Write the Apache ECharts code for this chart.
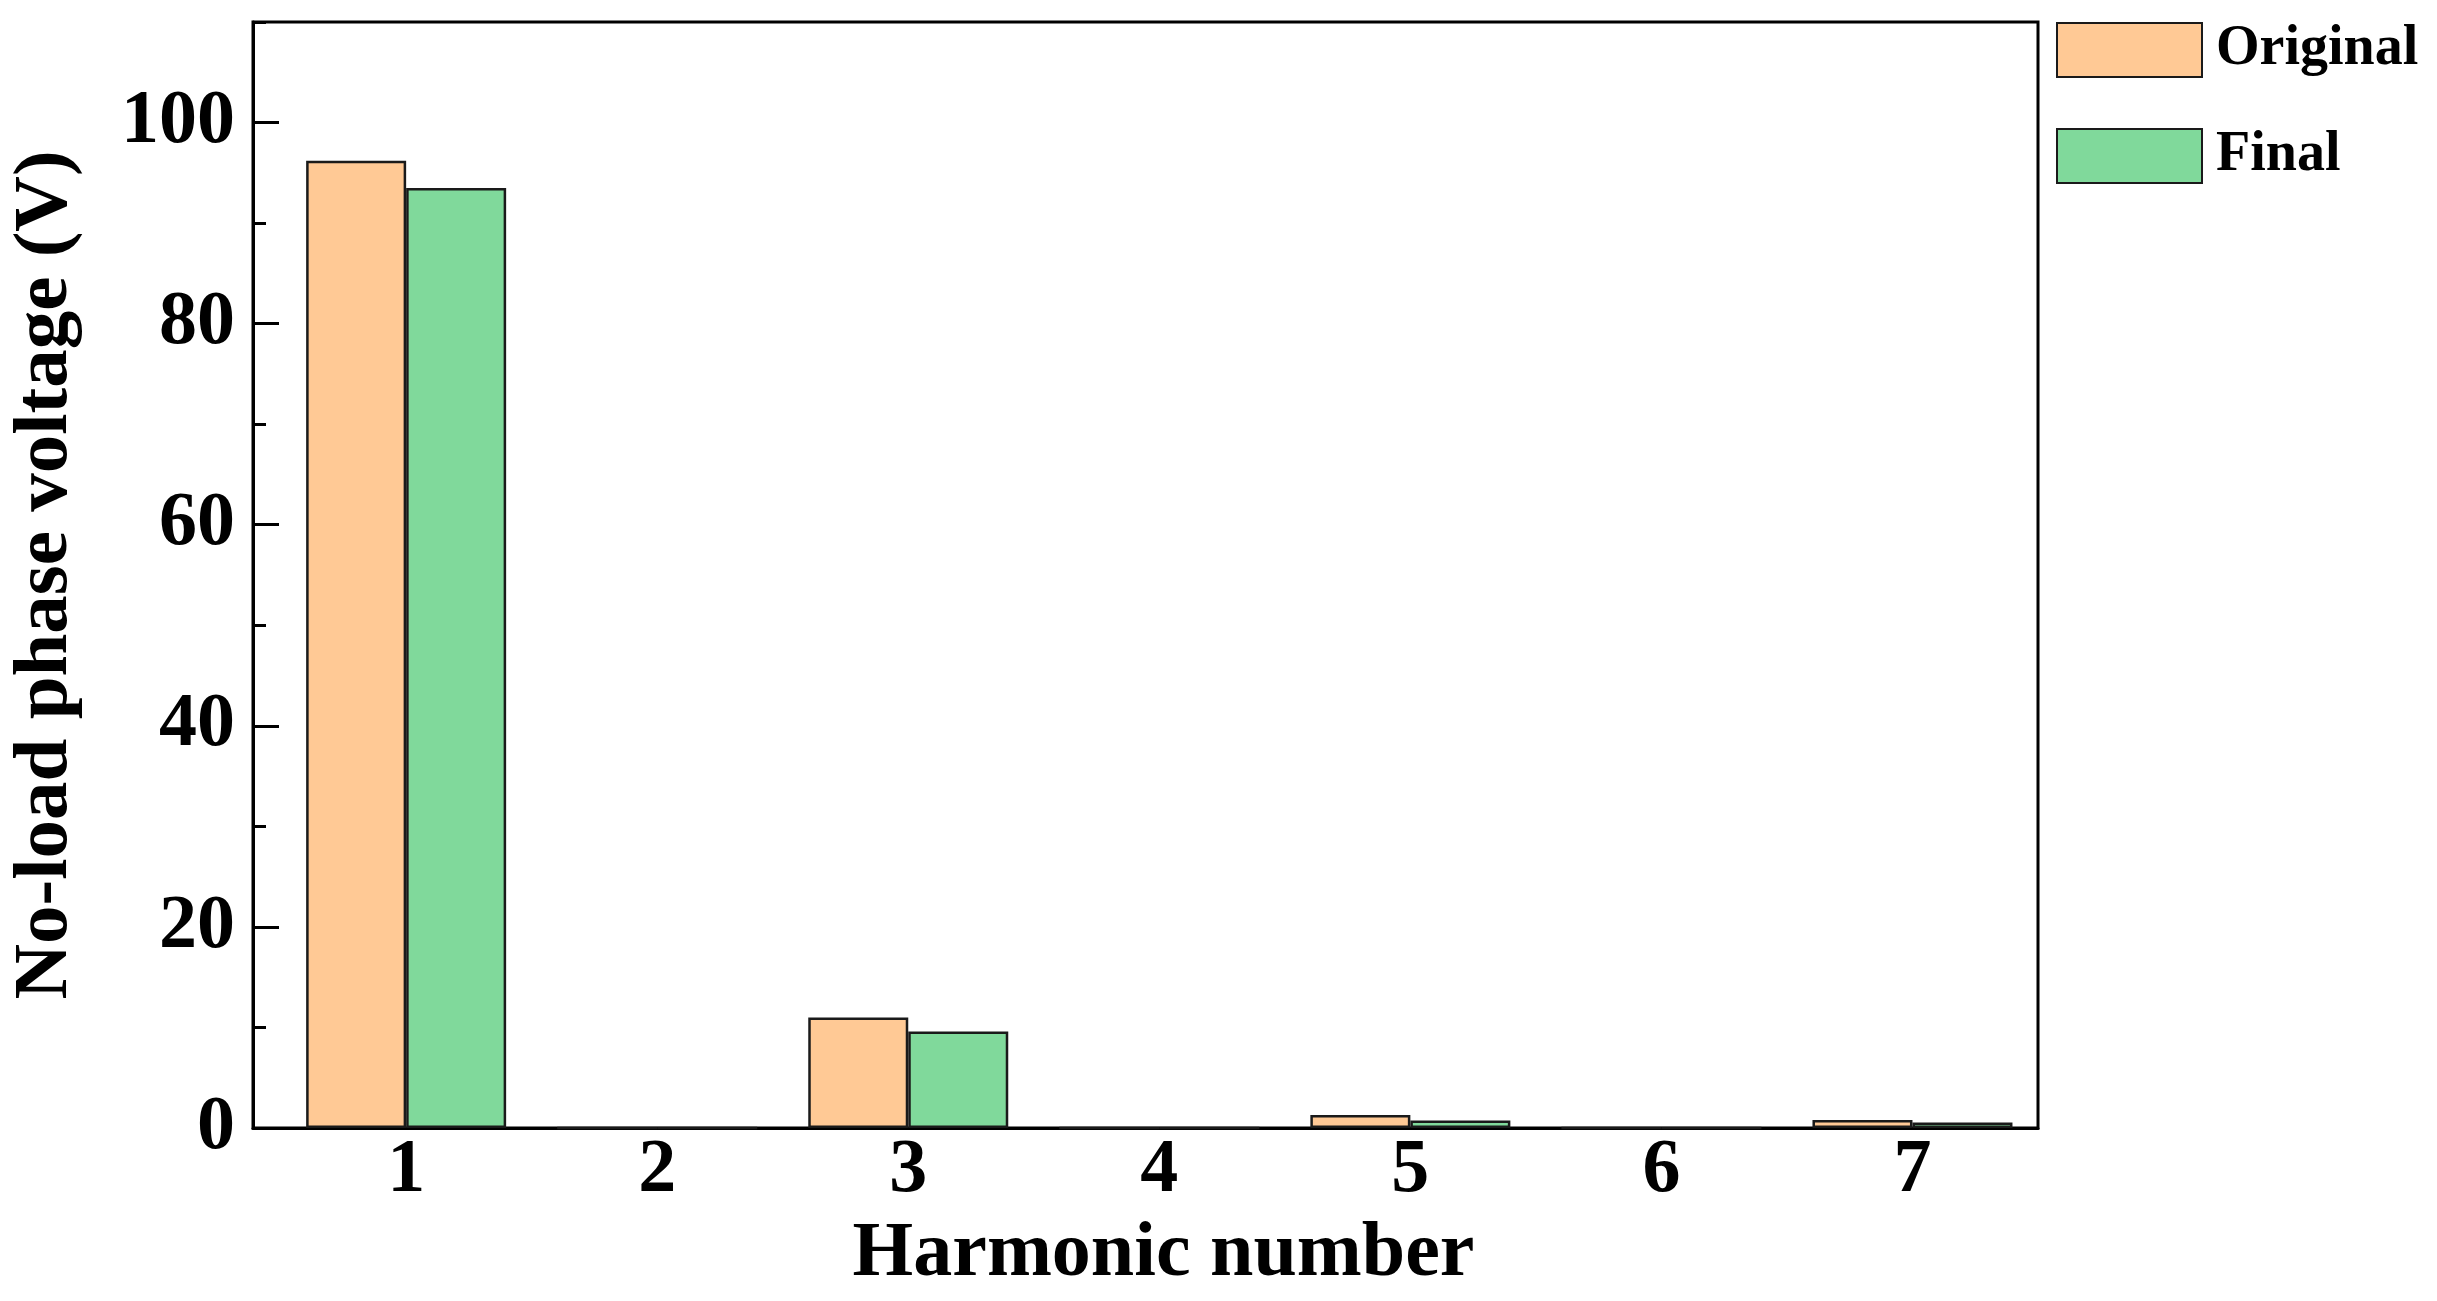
<!DOCTYPE html>
<html>
<head>
<meta charset="utf-8">
<script src="https://cdn.jsdelivr.net/npm/echarts@6/dist/echarts.min.js"></script>
<style>
html,body{margin:0;padding:0;background:#fff;}
#chart{width:2437px;height:1301px;}
</style>
</head>
<body>
<div id="chart"></div>
<script>
const harmonics = [1, 2, 3, 4, 5, 6, 7];
const originalValues = [96.2, 0, 11.0, 0, 1.3, 0, 0.8];
const finalValues = [93.5, 0, 9.6, 0, 0.75, 0, 0.55];
const yMajorTicks = [0, 20, 40, 60, 80, 100];
const seriesNames = ['Original', 'Final'];

const FONT = '"Liberation Serif", "Times New Roman", serif';
const chart = echarts.init(document.getElementById('chart'));

const pairs = (vals) => harmonics.map((h, i) => [h, vals[i]]);

chart.setOption({
  backgroundColor: '#ffffff',
  animation: false,
  grid: {
    left: 253, right: 399, top: 22, bottom: 173,
    show: true, borderColor: '#000', borderWidth: 3, backgroundColor: 'transparent'
  },
  legend: {
    orient: 'vertical',
    left: 2056, top: 22,
    padding: 0,
    itemWidth: 145, itemHeight: 54, itemGap: 50,
    icon: 'rect',
    textStyle: { fontFamily: FONT, fontWeight: 'bold', fontSize: 56, color: '#000', padding: [0, 0, 0, 9] },
    data: seriesNames
  },
  xAxis: {
    type: 'value',
    min: 0.39, max: 7.5,
    name: 'Harmonic number',
    nameLocation: 'middle',
    nameGap: 88,
    nameTextStyle: { fontFamily: FONT, fontWeight: 'bold', fontSize: 78, color: '#000', padding: [0, 0, 0, 36] },
    axisLine: { show: true, onZero: false, lineStyle: { color: '#000', width: 3 } },
    axisTick: { show: false, customValues: harmonics },
    axisLabel: {
      customValues: harmonics,
      fontFamily: FONT, fontWeight: 'bold', fontSize: 76, color: '#000', margin: 5
    },
    splitLine: { show: false }
  },
  yAxis: [
    {
      type: 'value',
      min: 0, max: 110,
      position: 'left',
      name: 'No-load phase voltage (V)',
      nameLocation: 'middle',
      nameGap: 168,
      nameTextStyle: { fontFamily: FONT, fontWeight: 'bold', fontSize: 77, color: '#000' },
      axisLine: { show: true, lineStyle: { color: '#000', width: 3 } },
      axisTick: { show: true, inside: true, length: 26, lineStyle: { color: '#000', width: 3 }, customValues: yMajorTicks },
      axisLabel: { customValues: yMajorTicks, fontFamily: FONT, fontWeight: 'bold', fontSize: 76, color: '#000', margin: 18 },
      splitLine: { show: false }
    },
    {
      type: 'value',
      min: 0, max: 110,
      interval: 10,
      position: 'left',
      axisLine: { show: false },
      axisTick: { show: true, inside: true, length: 13, lineStyle: { color: '#000', width: 3 } },
      axisLabel: { show: false },
      splitLine: { show: false }
    }
  ],
  series: [
    {
      name: seriesNames[0], type: 'bar', yAxisIndex: 0,
      barWidth: 100, barGap: '0%',
      itemStyle: { color: '#FFC995', borderColor: '#1a1a1a', borderWidth: 2.5 },
      data: pairs(originalValues)
    },
    {
      name: seriesNames[1], type: 'bar', yAxisIndex: 0,
      barWidth: 100, barGap: '0%',
      itemStyle: { color: '#80D99B', borderColor: '#1a1a1a', borderWidth: 2.5 },
      data: pairs(finalValues)
    }
  ]
});
</script>
</body>
</html>
